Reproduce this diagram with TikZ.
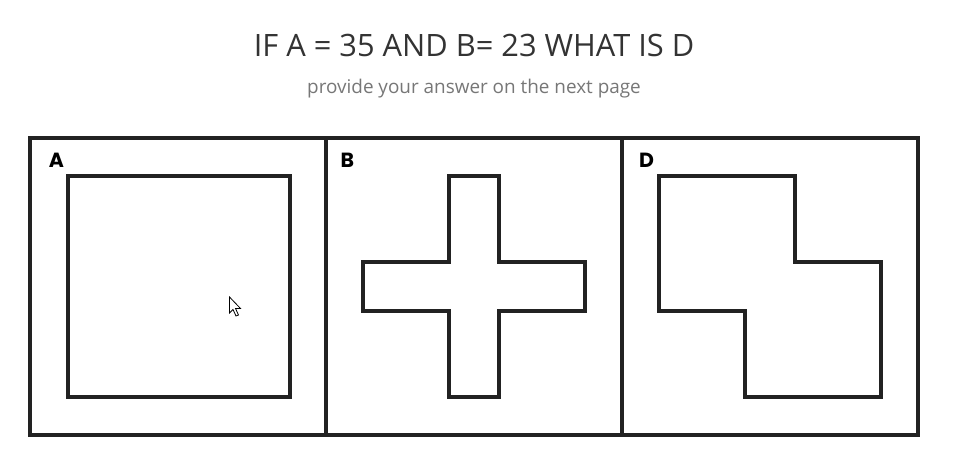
\documentclass[tikz,border=0pt]{standalone}
\usepackage{fontspec}
\setmainfont{Open Sans}
\newfontfamily\labelfont{Poppins}
\definecolor{ink}{HTML}{222222}
\definecolor{titlegray}{HTML}{333333}
\definecolor{subgray}{HTML}{777777}
\begin{document}
\begin{tikzpicture}[x=1pt,y=-1pt,
  frame/.style={draw=ink,line width=3.2pt},
  shapeline/.style={draw=ink,line width=3.2pt,line join=miter},
  panellabel/.style={font=\labelfont\bfseries\fontsize{20.5}{20.5}\selectfont,text=black,inner sep=0pt,anchor=base},
  titletext/.style={font=\fontsize{30.8}{30.8}\selectfont,text=titlegray,inner sep=0pt},
  subtext/.style={font=\fontsize{18.9}{18.9}\selectfont,text=subgray,inner sep=0pt}]
\useasboundingbox[fill=white] (0,0) rectangle (953,465);
% titles
\node[titletext] (title) at (474,46) {IF A = 35 AND B= 23 WHAT IS D};
\node[subtext] (sub) at (474,88.5) {provide your answer on the next page};
% outer frame and dividers
\draw[frame] (30,138) rectangle (918,435);
\draw[frame] (326,138) -- (326,435);
\draw[frame] (622,138) -- (622,435);
% labels
\node[panellabel] (la) at (56.5,167.7) {A};
\node[panellabel] (lb) at (347.5,167.7) {B};
\node[panellabel] (ld) at (646.5,167.7) {D};
% A square
\draw[shapeline] (68,176) rectangle (290,397);
% B cross
\draw[shapeline] (449,176) -- (499,176) -- (499,262) -- (585,262) -- (585,311) -- (499,311) -- (499,397) -- (449,397) -- (449,311) -- (363,311) -- (363,262) -- (449,262) -- cycle;
% D shape
\draw[shapeline] (659,176) -- (795,176) -- (795,262) -- (881,262) -- (881,397) -- (745,397) -- (745,311) -- (659,311) -- cycle;
% mouse cursor
\draw[fill=white,draw=black,line width=0.8pt,line join=miter] (229.5,297) -- (229.5,313) -- (233,309.5) -- (236,316) -- (238.5,315) -- (235.5,308.5) -- (240.5,308.5) -- cycle;
\end{tikzpicture}
\end{document}
